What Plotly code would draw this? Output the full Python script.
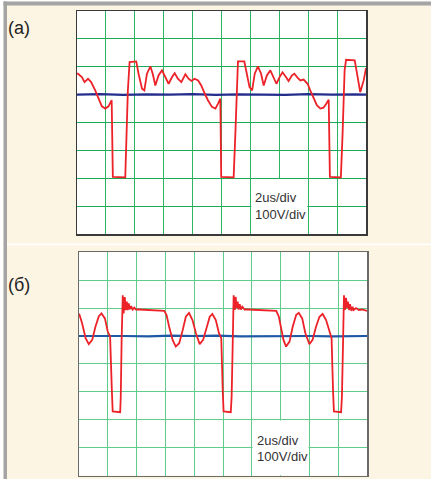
import plotly.graph_objects as go

W, H = 431, 479

# ---------------- data (time in divisions, voltage in divisions) ----------------
a_red_x = [0.00, 0.03, 0.17, 0.26, 0.38, 0.49, 0.63, 0.75, 0.86, 0.98, 1.09, 1.20, 1.24,
           1.67, 1.71, 1.76, 1.82, 2.05, 2.13, 2.25, 2.33, 2.42, 2.54, 2.62, 2.71, 2.82,
           2.94, 3.06, 3.17, 3.29, 3.38, 3.49, 3.61, 3.75, 3.86, 3.96, 4.07, 4.19, 4.30,
           4.42, 4.53, 4.67, 4.79, 4.88, 4.96, 4.99,
           5.42, 5.48, 5.54, 5.57, 5.79, 5.88, 5.97, 6.06, 6.15, 6.26, 6.37, 6.46, 6.57,
           6.69, 6.80, 6.90, 7.01, 7.11, 7.23, 7.32, 7.44, 7.52, 7.63, 7.73, 7.84, 7.98,
           8.07, 8.19, 8.30, 8.42, 8.53, 8.63, 8.71, 8.75,
           9.13, 9.19, 9.26, 9.31, 9.61, 9.69, 9.80, 9.92, 10.00]
a_red_y = [0.75, 0.75, 0.63, 0.45, 0.57, 0.45, 0.15, -0.18, -0.42, -0.50, -0.42, -0.20, -2.95,
           -2.97, -1.64, 0.15, 1.17, 1.19, 0.75, 0.21, 0.15, 0.75, 1.01, 0.75, 0.33, 0.69,
           0.87, 0.63, 0.39, 0.63, 0.77, 0.57, 0.45, 0.73, 0.57, 0.49, 0.57, 0.51, 0.33,
           0.04, -0.20, -0.44, -0.50, -0.32, -0.14, -2.95,
           -2.97, -1.40, 0.40, 1.19, 1.19, 0.75, 0.27, 0.15, 0.75, 1.01, 0.75, 0.33, 0.69,
           0.87, 0.63, 0.39, 0.63, 0.80, 0.63, 0.49, 0.69, 0.75, 0.61, 0.51, 0.54, 0.39,
           0.15, -0.14, -0.38, -0.50, -0.47, -0.32, -0.18, -2.95,
           -2.97, -1.40, 0.87, 1.25, 1.23, 0.75, 0.09, 0.51, 0.95]

b_red_x = [0.00, 0.02, 0.11, 0.23, 0.34, 0.46, 0.57, 0.69, 0.78, 0.90, 1.00, 1.08, 1.14, 1.17,
           1.43, 1.45, 1.48, 1.52, 1.55, 1.59, 1.62, 1.66, 1.69, 1.73, 1.76, 1.81, 1.86,
           1.92, 1.98, 2.09, 2.96, 3.04, 3.13, 3.25, 3.36, 3.48, 3.60, 3.71, 3.82, 3.94,
           4.06, 4.19, 4.31, 4.43, 4.54, 4.63, 4.75, 4.86, 4.94, 4.99, 5.02,
           5.27, 5.30, 5.34, 5.37, 5.41, 5.44, 5.47, 5.51, 5.54, 5.58, 5.62, 5.67, 5.75,
           5.87, 6.85, 6.94, 7.02, 7.10, 7.19, 7.31, 7.42, 7.54, 7.63, 7.75, 7.86, 8.00,
           8.11, 8.23, 8.35, 8.46, 8.58, 8.69, 8.77, 8.82, 8.85,
           9.10, 9.13, 9.17, 9.20, 9.24, 9.27, 9.31, 9.34, 9.38, 9.41, 9.46, 9.50, 9.54,
           9.62, 9.72, 9.83, 10.00]
b_red_y = [0.80, 0.75, 0.45, -0.08, -0.29, -0.14, 0.33, 0.71, 0.81, 0.63, 0.15, -0.02, -1.93, -2.70,
           -2.73, -2.17, -0.14, 1.46, 0.81, 1.40, 0.93, 1.23, 0.93, 1.17, 0.95, 1.07, 0.95,
           1.02, 0.95, 0.95, 0.90, 0.75, 0.33, -0.14, -0.38, -0.26, 0.21, 0.69, 0.83, 0.57,
           0.10, -0.29, -0.14, 0.33, 0.69, 0.79, 0.57, 0.10, -0.08, -1.93, -2.70,
           -2.73, -2.17, -0.14, 1.46, 0.93, 1.40, 1.00, 1.23, 0.95, 1.14, 0.95, 1.05, 0.95,
           0.95, 0.90, 0.69, 0.27, -0.14, -0.38, -0.20, 0.33, 0.75, 0.83, 0.63, 0.10, -0.29,
           -0.14, 0.33, 0.69, 0.79, 0.57, 0.15, -0.08, -1.93, -2.70,
           -2.73, -2.17, -0.14, 1.46, 0.93, 1.37, 1.00, 1.23, 0.93, 1.14, 0.90, 1.05, 0.93,
           1.00, 0.93, 0.95, 0.90]

blue_x = [0, 0.8, 1.6, 2.4, 3.2, 4.0, 4.8, 5.6, 6.4, 7.2, 8.0, 8.8, 9.6, 10]
a_blue_y = [0.00, 0.02, -0.01, 0.01, 0.00, 0.02, -0.01, 0.01, 0.00, -0.01, 0.02, 0.00, 0.01, 0.00]
b_blue_y = [0.00, 0.01, 0.00, -0.01, 0.01, 0.00, 0.01, -0.01, 0.00, 0.01, 0.00, -0.01, 0.00, 0.00]

panel_labels = ["(a)", "(б)"]
scale_labels = ["2us/div", "100V/div"]

# ---------------- figure ----------------
fig = go.Figure()

fig.add_trace(go.Scatter(x=blue_x, y=a_blue_y, mode="lines", xaxis="x", yaxis="y",
                         line=dict(color="#232d8c", width=2.2), hoverinfo="skip"))
fig.add_trace(go.Scatter(x=a_red_x, y=a_red_y, mode="lines", xaxis="x", yaxis="y",
                         line=dict(color="#ec2228", width=1.8), hoverinfo="skip"))
fig.add_trace(go.Scatter(x=blue_x, y=b_blue_y, mode="lines", xaxis="x2", yaxis="y2",
                         line=dict(color="#1f58a4", width=2.2), hoverinfo="skip"))
fig.add_trace(go.Scatter(x=b_red_x, y=b_red_y, mode="lines", xaxis="x2", yaxis="y2",
                         line=dict(color="#ec2228", width=1.8), hoverinfo="skip"))


def px_x(p):
    return p / W


def px_y(p):
    return 1 - p / H


def axis(domain, rng, grid, frame):
    return dict(domain=domain, range=rng, dtick=1, tick0=0, showgrid=True,
                gridcolor=grid, gridwidth=1, zeroline=False, showticklabels=False,
                ticks="", showline=True, mirror=True, linecolor=frame, linewidth=1.5,
                fixedrange=True)


layout_shapes = [
    # outer white strips and grey page border
    dict(type="rect", xref="paper", yref="paper", x0=0, x1=px_x(3.5), y0=0, y1=1,
         fillcolor="#ffffff", line=dict(width=0), layer="below"),
    dict(type="rect", xref="paper", yref="paper", x0=0, x1=1, y0=px_y(1.5), y1=1,
         fillcolor="#ffffff", line=dict(width=0), layer="below"),
    dict(type="rect", xref="paper", yref="paper", x0=px_x(3.5), x1=px_x(7), y0=0, y1=px_y(1.5),
         fillcolor="#a4a4a4", line=dict(width=0), layer="below"),
    dict(type="rect", xref="paper", yref="paper", x0=px_x(3.5), x1=1, y0=px_y(5.5), y1=px_y(1.5),
         fillcolor="#a4a4a4", line=dict(width=0), layer="below"),
    # white separator between panels
    dict(type="rect", xref="paper", yref="paper", x0=px_x(7), x1=1, y0=px_y(245.2), y1=px_y(243.4),
         fillcolor="#ffffff", line=dict(width=0), layer="below"),
    # scale boxes
    dict(type="rect", xref="x", yref="y", x0=6.03, x1=7.97, y0=-5, y1=-3.03,
         fillcolor="#ffffff", line=dict(width=0), layer="between"),
    dict(type="rect", xref="x2", yref="y2", x0=6.03, x1=7.97, y0=-5, y1=-3.03,
         fillcolor="#ffffff", line=dict(width=0), layer="between"),
]

ann = []
ann.append(dict(text=panel_labels[0], xref="paper", yref="paper", x=px_x(6), y=px_y(28.5),
                xanchor="left", yanchor="middle", showarrow=False,
                font=dict(family="Liberation Sans, Arial", size=18, color="#222222")))
ann.append(dict(text=panel_labels[1], xref="paper", yref="paper", x=px_x(6), y=px_y(285),
                xanchor="left", yanchor="middle", showarrow=False,
                font=dict(family="Liberation Sans, Arial", size=18, color="#222222")))
for (xp, y1, y2) in [(253, 197.5, 215.0), (255, 440.0, 456.0)]:
    ann.append(dict(text=scale_labels[0], xref="paper", yref="paper", x=px_x(xp), y=px_y(y1),
                    xanchor="left", yanchor="middle", showarrow=False,
                    font=dict(family="Liberation Sans, Arial", size=13, color="#333333")))
    ann.append(dict(text=scale_labels[1], xref="paper", yref="paper", x=px_x(xp), y=px_y(y2),
                    xanchor="left", yanchor="middle", showarrow=False,
                    font=dict(family="Liberation Sans, Arial", size=13, color="#333333")))

fig.update_layout(
    width=W, height=H, autosize=False,
    margin=dict(l=0, r=0, t=0, b=0, pad=0),
    paper_bgcolor="#fdf5e4", plot_bgcolor="#ffffff",
    showlegend=False,
    xaxis=axis([px_x(77), px_x(366)], [0, 10], "#2db463", "#3a3a3a"),
    yaxis=axis([px_y(234), px_y(11)], [-5, 3], "#1aa955", "#3a3a3a"),
    xaxis2=axis([px_x(79), px_x(367)], [0, 10], "#5fcc8c", "#6a6a6a"),
    yaxis2=axis([px_y(475.5), px_y(252.3)], [-5, 3], "#5fcc8c", "#6a6a6a"),
    shapes=layout_shapes,
    annotations=ann,
)
fig.update_layout(yaxis2=dict(anchor="x2"), xaxis2=dict(anchor="y2"))

fig.write_html("out.html", config={"displayModeBar": False, "staticPlot": True},
               post_script="document.body.style.margin='0';document.body.style.overflow='hidden';")
